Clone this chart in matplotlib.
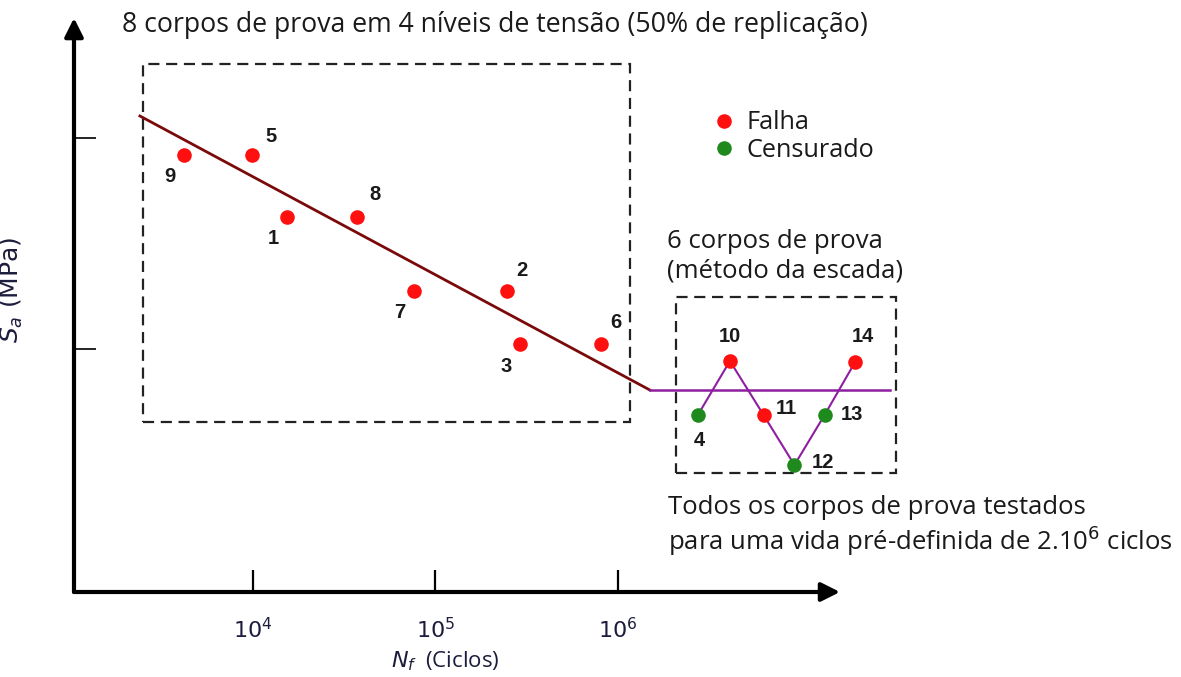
import matplotlib
matplotlib.use("Agg")
import matplotlib.pyplot as plt
from matplotlib.patches import Rectangle
from matplotlib.lines import Line2D

# ---- data ----
spec_ids = ["9", "5", "1", "8", "7", "2", "3", "6", "10", "4", "11", "12", "13", "14"]
cycles = [4.2e3, 9.9e3, 1.54e4, 3.73e4, 7.65e4, 2.47e5, 2.92e5, 8.1e5,
          4.12e6, 2.75e6, 6.3e6, 9.3e6, 1.36e7, 2.0e7]
stress = [437, 437, 375, 375, 301, 301, 248, 248,
          231, 177, 177, 127, 177, 230]
status = ["F", "F", "F", "F", "F", "F", "F", "F",
          "F", "C", "F", "C", "C", "F"]  # F = falha, C = censurado
staircase_order = ["4", "10", "11", "12", "13", "14"]

sn_line_N = [2.41e3, 1.50e6]
sn_line_S = [476, 202]
endurance_N = [1.50e6, 3.1e7]
endurance_S = [202, 202]

box1_N = [2.5e3, 1.17e6]
box1_S = [170, 528]
box2_N = [2.08e6, 3.34e7]
box2_S = [119, 295]

xtick_vals = [1e4, 1e5, 1e6]
ytick_vals = [243, 454]

# label offsets in pixels (label centre relative to point)
label_offsets = {"9": (-14, -21), "5": (19, 19), "1": (-14, -21), "8": (18, 22),
                 "7": (-14, -22), "2": (15, 21), "3": (-14, -22), "6": (15, 22),
                 "10": (0, 24), "4": (1, -26), "11": (23, 7), "12": (28, 3),
                 "13": (27, 0), "14": (8, 25)}

RED = "#ff1010"
GREEN = "#1e8a1e"
MAROON = "#7a0a0a"
PURPLE = "#8e1ea0"
TXT = "#1a1a1a"
NAVY = "#1c1c3c"
CAL = ["Open Sans", "DejaVu Sans"]
TFS = 18.5

fig = plt.figure(figsize=(11.81, 6.77), dpi=100)
ax = fig.add_axes([74 / 1181, 85 / 677, 1107 / 1181, 592 / 677])
ax.set_xscale("log")
ax.set_xlim(10 ** 3.0208, 10 ** 9.0866)
ax.set_ylim(0, 592)
for s in ax.spines.values():
    s.set_visible(False)

# axes arrows
ax.annotate("", xy=(0, 0.9696), xytext=(0, 0), xycoords="axes fraction",
            arrowprops=dict(arrowstyle="-|>", lw=3, color="black",
                            mutation_scale=28, shrinkA=0, shrinkB=0))
ax.annotate("", xy=(0.692, 0), xytext=(0, 0), xycoords="axes fraction",
            arrowprops=dict(arrowstyle="-|>", lw=3, color="black",
                            mutation_scale=28, shrinkA=0, shrinkB=0))

ax.set_xticks(xtick_vals)
ax.xaxis.set_minor_locator(matplotlib.ticker.NullLocator())
ax.set_yticks(ytick_vals)
ax.set_yticklabels([])
ax.tick_params(axis="x", direction="in", length=16, width=1.6, pad=18,
               labelsize=16, labelcolor=NAVY)
ax.tick_params(axis="y", direction="in", length=16, width=1.2)

# S-N line and endurance line
ax.plot(sn_line_N, sn_line_S, color=MAROON, lw=2.0, zorder=2)
ax.plot(endurance_N, endurance_S, color=PURPLE, lw=1.8, zorder=2)

# staircase connections
idx = {k: i for i, k in enumerate(spec_ids)}
ax.plot([cycles[idx[k]] for k in staircase_order],
        [stress[idx[k]] for k in staircase_order], color=PURPLE, lw=1.5, zorder=2)

# boxes
for bN, bS in ((box1_N, box1_S), (box2_N, box2_S)):
    ax.add_patch(Rectangle((bN[0], bS[0]), bN[1] - bN[0], bS[1] - bS[0],
                           fill=False, ec="#222222", lw=1.6,
                           ls=(0, (5, 3)), zorder=1))

# points
for sid, n, s, st in zip(spec_ids, cycles, stress, status):
    ax.plot(n, s, "o", color=RED if st == "F" else GREEN, ms=10.5, mec="none", zorder=3)
    ax.annotate(sid, (n, s), xytext=label_offsets[sid], textcoords="offset pixels",
                ha="center", va="center", fontsize=14.5, fontweight="bold",
                family=["Liberation Sans", "DejaVu Sans"], color=TXT)

# legend
handles = [Line2D([], [], marker="o", ls="none", color=RED, mec="none", ms=10.5),
           Line2D([], [], marker="o", ls="none", color=GREEN, mec="none", ms=10.5)]
ax.legend(handles, ["Falha", "Censurado"], loc="center left",
          bbox_to_anchor=((714 - 74) / 1107, (592 - 136.5) / 592),
          frameon=False, handlelength=0.8, handletextpad=0.5, labelspacing=0.08,
          borderpad=0, borderaxespad=0, prop={"family": CAL, "size": 18.2},
          labelcolor=TXT)

# annotations
ax.text(10 ** 3.283, 567, "8 corpos de prova em 4 níveis de tensão (50% de replicação)",
        ha="left", va="center", fontsize=19.2, family=CAL, color=TXT)
ax.text(10 ** 6.269, 351, "6 corpos de prova", ha="left", va="center",
        fontsize=TFS, family=CAL, color=TXT)
ax.text(10 ** 6.269, 321, "(método da escada)", ha="left", va="center",
        fontsize=TFS, family=CAL, color=TXT)
ax.text(10 ** 6.275, 85, "Todos os corpos de prova testados", ha="left", va="center",
        fontsize=TFS, family=CAL, color=TXT)
ax.text(10 ** 6.275, 51, "para uma vida pré-definida de 2.10$^6$ ciclos", ha="left",
        va="center", fontsize=TFS, family=CAL, color=TXT)

ax.set_xlabel(r"$N_f$  (Ciclos)", fontsize=16, family=CAL, color=NAVY)
ax.xaxis.set_label_coords((445 - 74) / 1107, -0.097)
ax.set_ylabel(r"$S_a$ (MPa)", fontsize=18, color=NAVY)
ax.yaxis.set_label_coords(-0.044, 0.51)

fig.savefig("out.png", dpi=100)
